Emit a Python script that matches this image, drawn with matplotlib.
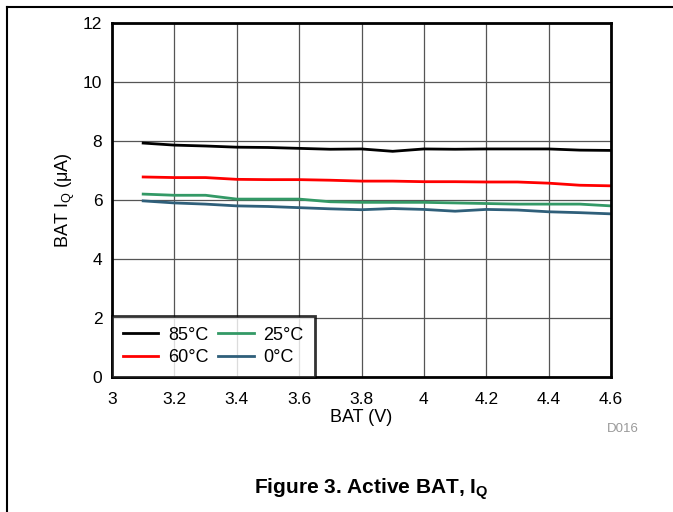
import numpy as np
import matplotlib.pyplot as plt
from matplotlib.lines import Line2D

plt.rcParams['font.family'] = ['Liberation Sans', 'DejaVu Sans']

bat_v = [3.1, 3.2, 3.3, 3.4, 3.5, 3.6, 3.7, 3.8, 3.9, 4.0, 4.1, 4.2, 4.3, 4.4, 4.5, 4.6]
iq_85c = [7.93, 7.86, 7.83, 7.79, 7.78, 7.75, 7.72, 7.73, 7.65, 7.73, 7.72, 7.73, 7.73, 7.73, 7.69, 7.68]
iq_60c = [6.78, 6.76, 6.76, 6.70, 6.69, 6.69, 6.67, 6.64, 6.64, 6.62, 6.62, 6.61, 6.61, 6.57, 6.50, 6.48]
iq_25c = [6.20, 6.16, 6.16, 6.03, 6.03, 6.03, 5.94, 5.92, 5.92, 5.92, 5.90, 5.88, 5.86, 5.86, 5.86, 5.80]
iq_0c = [5.97, 5.90, 5.86, 5.80, 5.78, 5.74, 5.70, 5.67, 5.71, 5.68, 5.62, 5.68, 5.66, 5.60, 5.57, 5.53]

x_ticks = [3, 3.2, 3.4, 3.6, 3.8, 4, 4.2, 4.4, 4.6]
x_ticklabels = ['3', '3.2', '3.4', '3.6', '3.8', '4', '4.2', '4.4', '4.6']
y_ticks = [0, 2, 4, 6, 8, 10, 12]

fig = plt.figure(figsize=(6.73, 5.12), dpi=100)
ax = fig.add_axes([0.1664, 0.2637, 0.7415, 0.6914])

ax.plot(bat_v, iq_85c, color='black', lw=2, label='85°C')
ax.plot(bat_v, iq_60c, color='#ff0000', lw=2, label='60°C')
ax.plot(bat_v, iq_25c, color='#339966', lw=2, label='25°C')
ax.plot(bat_v, iq_0c, color='#2f5f7a', lw=2, label='0°C')

ax.set_xlim(3, 4.6)
ax.set_ylim(0, 12)
ax.set_xticks(x_ticks)
ax.set_xticklabels(x_ticklabels)
ax.set_yticks(y_ticks)
ax.tick_params(length=0, labelsize=12.5)
ax.tick_params(axis='x', pad=11)
ax.tick_params(axis='y', pad=7)
ax.grid(True, color='#555555', lw=0.9)
ax.set_axisbelow(True)
for s in ax.spines.values():
    s.set_linewidth(2)

ax.set_xlabel('BAT (V)', fontsize=13, labelpad=1.5)
ax.set_ylabel(r'BAT I$_\mathregular{Q}$ ($\mathregular{\mu}$A)', fontsize=13, labelpad=4)

# legend entries go column-wise: 85, 60 | 25, 0
h, l = ax.get_legend_handles_labels()
leg = ax.legend(h, l, ncol=2,
                loc='lower left', bbox_to_anchor=(0, 0), fontsize=13,
                frameon=True, fancybox=False, borderpad=0.6,
                handlelength=1.95, columnspacing=0.55, labelspacing=0.3,
                handletextpad=0.55, borderaxespad=0)
leg.get_frame().set_edgecolor('black')
leg.get_frame().set_linewidth(2)

fig.text(0.949, 0.163, 'D016', fontsize=9.5, color='#999999', ha='right', va='center')
fig.text(0.551, 0.044, r'Figure 3. Active BAT, I$_\mathregular{Q}$', fontsize=15,
         fontweight='bold', ha='center', va='center')

# page border (top and left)
fig.add_artist(Line2D([7 / 673, 1], [1 - 7 / 512, 1 - 7 / 512], color='black', lw=1.5,
                      transform=fig.transFigure))
fig.add_artist(Line2D([7 / 673, 7 / 673], [0, 1 - 7 / 512], color='black', lw=1.5,
                      transform=fig.transFigure))

fig.savefig('out.png', dpi=100)
